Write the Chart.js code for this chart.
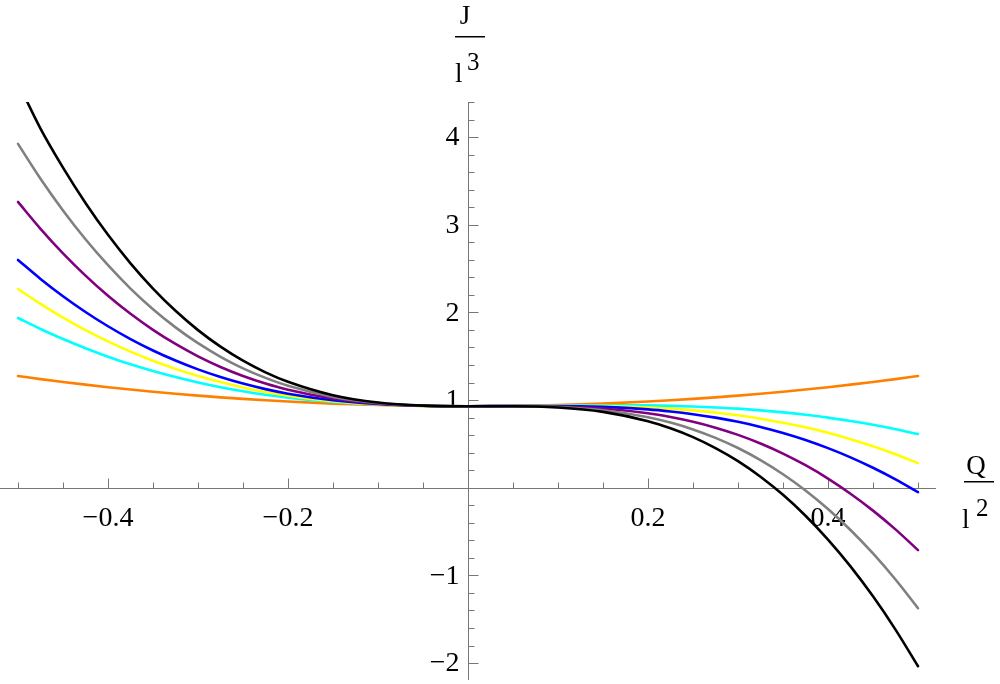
<!DOCTYPE html>
<html>
<head>
<meta charset="utf-8">
<script src="https://cdn.jsdelivr.net/npm/chart.js@4/dist/chart.umd.min.js"></script>
<style>
  html, body { margin: 0; padding: 0; background: #ffffff; }
  #wrap { width: 1000px; height: 684px; position: relative; }
</style>
</head>
<body>
<div id="wrap"><canvas id="c" width="1000" height="684"></canvas></div>
<script>
// ---- data ----
const Q = [-0.5,-0.475,-0.45,-0.425,-0.4,-0.375,-0.35,-0.325,-0.3,-0.275,-0.25,-0.225,-0.2,-0.15,-0.1,-0.05,0,
           0.05,0.1,0.15,0.2,0.225,0.25,0.275,0.3,0.325,0.35,0.375,0.4,0.425,0.45,0.475,0.5];
const orangeJ = [1.274,1.239,1.207,1.176,1.147,1.120,1.095,1.072,1.051,1.031,1.014,0.998,0.983,0.960,0.943,0.933,0.930,
                 0.933,0.943,0.960,0.983,0.998,1.014,1.031,1.051,1.072,1.095,1.120,1.147,1.176,1.207,1.239,1.274];
const cyanJ   = [1.936,1.811,1.696,1.591,1.495,1.408,1.331,1.262,1.200,1.147,1.101,1.061,1.028,0.979,0.949,0.934,0.930,
                 0.933,0.938,0.941,0.939,0.934,0.927,0.916,0.902,0.883,0.860,0.832,0.800,0.761,0.718,0.668,0.612];
const yellowJ = [2.267,2.097,1.940,1.798,1.669,1.552,1.448,1.356,1.275,1.205,1.144,1.093,1.051,0.988,0.952,0.934,0.930,
                 0.932,0.935,0.931,0.916,0.902,0.883,0.858,0.827,0.788,0.742,0.689,0.626,0.554,0.473,0.382,0.281];
const blueJ   = [2.598,2.382,2.185,2.005,1.842,1.696,1.566,1.451,1.350,1.263,1.188,1.125,1.073,0.998,0.955,0.935,0.930,
                 0.932,0.932,0.922,0.894,0.870,0.839,0.800,0.752,0.694,0.625,0.545,0.452,0.347,0.228,0.096,-0.050];
const purpleJ = [3.260,2.954,2.674,2.420,2.190,1.984,1.801,1.640,1.499,1.378,1.275,1.189,1.118,1.017,0.960,0.935,0.930,
                 0.931,0.926,0.903,0.849,0.806,0.752,0.685,0.603,0.505,0.390,0.257,0.105,-0.068,-0.261,-0.475,-0.712];
const grayJ   = [3.922,3.525,3.163,2.834,2.538,2.272,2.036,1.829,1.649,1.494,1.362,1.253,1.163,1.036,0.966,0.936,0.930,
                 0.930,0.921,0.884,0.804,0.743,0.665,0.569,0.453,0.315,0.154,-0.031,-0.243,-0.482,-0.750,-1.047,-1.374];
const blackJ  = [4.620,4.097,3.652,3.249,2.885,2.560,2.272,2.018,1.798,1.609,1.449,1.316,1.208,1.055,0.972,0.937,0.930,
                 0.930,0.915,0.865,0.759,0.679,0.578,0.453,0.304,0.126,-0.081,-0.319,-0.591,-0.897,-1.239,-1.618,-2.036];

const xTickValues = [-0.4, -0.2, 0.2, 0.4];
const xTickLabels = ['\u22120.4', '\u22120.2', '0.2', '0.4'];
const yTickValues = [-2, -1, 1, 2, 3, 4];
const yTickLabels = ['\u22122', '\u22121', '1', '2', '3', '4'];

// ---- build datasets (first is drawn on top) ----
const series = [
  { data: blackJ,  color: '#000000' },
  { data: grayJ,   color: '#808080' },
  { data: purpleJ, color: '#800080' },
  { data: blueJ,   color: '#0000FF' },
  { data: yellowJ, color: '#FFFF00' },
  { data: cyanJ,   color: '#00FFFF' },
  { data: orangeJ, color: '#FF8000' }
];
const datasets = series.map(s => ({
  data: Q.map((q, i) => ({ x: q, y: s.data[i] })),
  borderColor: s.color,
  borderWidth: 2.6,
  pointRadius: 0,
  fill: false,
  cubicInterpolationMode: 'monotone',
  borderCapStyle: 'round',
  borderJoinStyle: 'round'
}));

const SERIF = '"Liberation Serif", "DejaVu Serif", serif';

const axesPlugin = {
  id: 'mmaAxes',
  beforeDatasetsDraw(chart) {
    const ctx = chart.ctx;
    const xs = chart.scales.x, ys = chart.scales.y;
    const x0 = Math.round(xs.getPixelForValue(0)) + 0.5;
    const y0 = Math.round(ys.getPixelForValue(0)) + 0.5;
    ctx.save();
    ctx.strokeStyle = '#777777';
    ctx.lineWidth = 1;
    ctx.beginPath();
    ctx.moveTo(xs.left, y0); ctx.lineTo(xs.right, y0);
    ctx.moveTo(x0, ys.top); ctx.lineTo(x0, ys.bottom);
    ctx.stroke();
    ctx.beginPath();
    for (let k = -10; k <= 10; k++) {
      if (k === 0) continue;
      const v = k * 0.05;
      const px = Math.round(xs.getPixelForValue(v)) + 0.5;
      const major = (k % 4 === 0);
      ctx.moveTo(px, y0);
      ctx.lineTo(px, y0 - (major ? 10 : 6));
    }
    for (let k = -11; k <= 22; k++) {
      if (k === 0) continue;
      const v = k * 0.2;
      if (v < ys.min || v > ys.max) continue;
      const py = Math.round(ys.getPixelForValue(v)) + 0.5;
      const major = (k % 5 === 0);
      ctx.moveTo(x0, py);
      ctx.lineTo(x0 + (major ? 10 : 6), py);
    }
    ctx.stroke();
    ctx.fillStyle = '#000000';
    ctx.font = '28px ' + SERIF;
    ctx.textAlign = 'center';
    ctx.textBaseline = 'alphabetic';
    xTickValues.forEach((v, i) => {
      ctx.fillText(xTickLabels[i], xs.getPixelForValue(v), y0 + 37);
    });
    ctx.textAlign = 'right';
    ctx.textBaseline = 'middle';
    yTickValues.forEach((v, i) => {
      ctx.fillText(yTickLabels[i], x0 - 9, ys.getPixelForValue(v) + 1);
    });
    ctx.textAlign = 'center';
    ctx.textBaseline = 'alphabetic';
    ctx.font = '27px ' + SERIF;
    ctx.fillText('J', 465, 24);
    ctx.fillRect(455, 36, 30, 1.5);
    ctx.textAlign = 'left';
    ctx.fillText('l', 455, 82);
    ctx.font = '25px ' + SERIF;
    ctx.fillText('3', 467, 70);
    ctx.font = '27px ' + SERIF;
    ctx.textAlign = 'center';
    ctx.fillText('Q', 976, 474);
    ctx.fillRect(964, 481, 30, 1.5);
    ctx.textAlign = 'left';
    ctx.fillText('l', 962, 528);
    ctx.font = '25px ' + SERIF;
    ctx.fillText('2', 976, 516);
    ctx.restore();
  }
};

new Chart(document.getElementById('c'), {
  type: 'line',
  data: { datasets },
  options: {
    responsive: false,
    animation: false,
    layout: { padding: { left: 0, right: 64, top: 102, bottom: 4 } },
    plugins: { legend: { display: false }, tooltip: { enabled: false } },
    scales: {
      x: { type: 'linear', min: -0.52, max: 0.52, display: false },
      y: { type: 'linear', min: -2.193, max: 4.40, display: false }
    }
  },
  plugins: [axesPlugin]
});
</script>
</body>
</html>
